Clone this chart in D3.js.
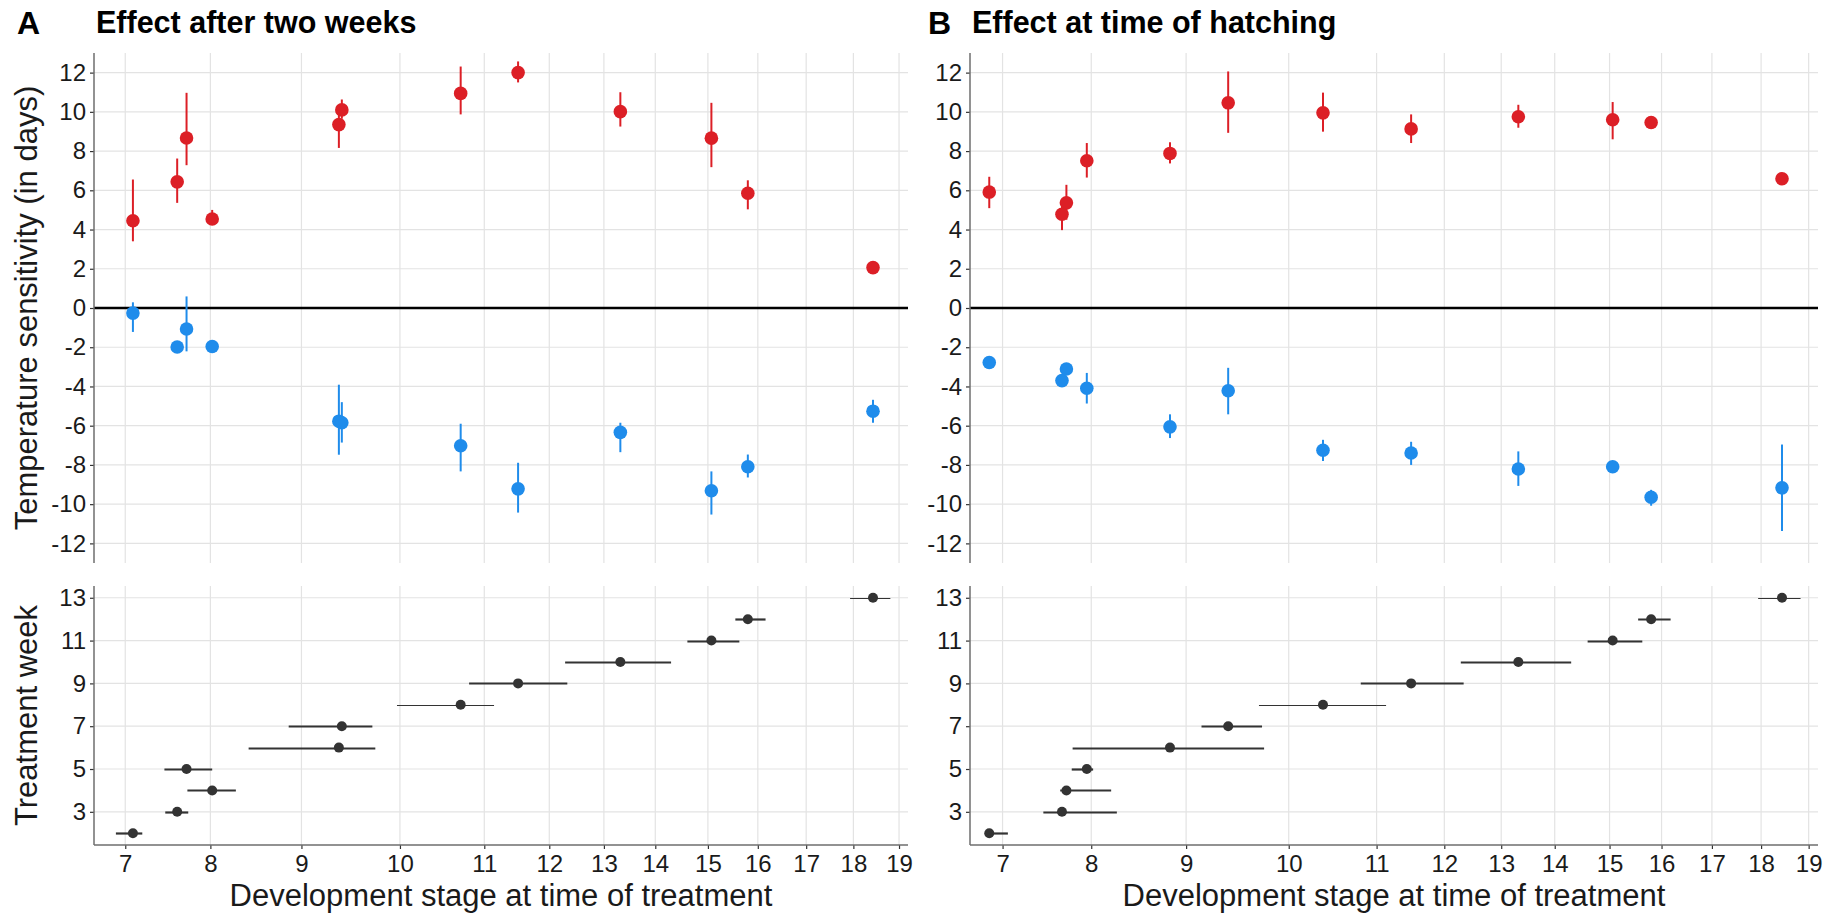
<!DOCTYPE html>
<html>
<head>
<meta charset="utf-8">
<script src="https://cdn.jsdelivr.net/npm/d3@7"></script>
<style>
  body { margin: 0; background: #fff; }
  svg { display: block; font-family: "Liberation Sans", Arial, sans-serif; }
</style>
</head>
<body>
<div id="chart"></div>
<script>
// treatment weeks (rows of the lower panels)
var weeks = [2, 3, 4, 5, 6, 7, 8, 9, 10, 11, 12, 13]
var thinWeeks = [8, 13]

// stage axis: ticks sit unevenly along the axis
var stageTicks = [7, 8, 9, 10, 11, 12, 13, 14, 15, 16, 17, 18, 19]
var stageTickFrac = [0, 0.110, 0.2277, 0.355, 0.464, 0.548, 0.6186, 0.685, 0.753, 0.8175, 0.880, 0.941, 1]
var sensTicks = [-12, -10, -8, -6, -4, -2, 0, 2, 4, 6, 8, 10, 12]
var weekTicks = [3, 5, 7, 9, 11, 13]

// A: effect after two weeks
var stageA   = [7.09, 7.61, 8.02, 7.72, 9.38, 9.41, 10.72, 11.52, 13.32, 15.07, 15.80, 18.43]
var stageALo = [6.89, 7.47, 7.73, 7.46, 8.42, 8.86, 9.97, 10.82, 12.29, 14.61, 15.55, 17.93]
var stageAHi = [7.20, 7.74, 8.28, 8.02, 9.75, 9.72, 11.15, 12.33, 14.30, 15.63, 16.16, 18.81]
var warmA    = [4.45, 6.43, 4.54, 8.67, 9.35, 10.10, 10.94, 12.00, 10.01, 8.66, 5.85, 2.06]
var warmALo  = [3.40, 5.36, 4.30, 7.28, 8.16, 9.65, 9.87, 11.50, 9.25, 7.18, 5.03, 1.90]
var warmAHi  = [6.55, 7.62, 5.00, 10.97, 9.90, 10.63, 12.31, 12.57, 11.00, 10.46, 6.51, 2.20]
var coldA    = [-0.26, -1.99, -1.96, -1.07, -5.77, -5.85, -7.02, -9.22, -6.34, -9.32, -8.09, -5.26]
var coldALo  = [-1.22, -2.25, -2.20, -2.21, -7.48, -6.86, -8.33, -10.43, -7.35, -10.53, -8.64, -5.85]
var coldAHi  = [0.29, -1.70, -1.65, 0.59, -3.91, -4.80, -5.90, -7.89, -5.85, -8.33, -7.47, -4.68]

// B: effect at time of hatching
var stageB   = [6.85, 7.67, 7.72, 7.95, 8.83, 9.41, 10.39, 11.51, 13.32, 15.06, 15.80, 18.44]
var stageBLo = [6.80, 7.46, 7.65, 7.78, 7.79, 9.15, 9.71, 10.82, 12.29, 14.60, 15.55, 17.94]
var stageBHi = [7.06, 8.27, 8.21, 8.02, 9.76, 9.74, 11.14, 12.34, 14.30, 15.63, 16.18, 18.83]
var warmB    = [5.91, 4.78, 5.36, 7.51, 7.88, 10.46, 9.95, 9.13, 9.75, 9.60, 9.46, 6.59]
var warmBLo  = [5.09, 3.97, 4.50, 6.65, 7.37, 8.93, 8.99, 8.41, 9.19, 8.60, 9.20, 6.45]
var warmBHi  = [6.69, 5.20, 6.28, 8.41, 8.45, 12.06, 10.98, 9.87, 10.36, 10.50, 9.70, 6.70]
var coldB    = [-2.78, -3.70, -3.11, -4.09, -6.06, -4.22, -7.25, -7.39, -8.21, -8.09, -9.65, -9.17]
var coldBLo  = [-2.90, -3.99, -3.30, -4.87, -6.63, -5.42, -7.80, -8.00, -9.07, -8.20, -10.08, -11.37]
var coldBHi  = [-2.65, -3.40, -2.95, -3.31, -5.42, -3.05, -6.72, -6.82, -7.31, -7.95, -9.27, -6.96]

var red = "#dc1f26", blue = "#1f8ceb", dark = "#333333"

var W = 1839, H = 916
var topY = [53, 563], botY = [586, 845]

var svg = d3.select("#chart").append("svg")
    .attr("width", W).attr("height", H)

var panels = [
  {tag: "A", title: "Effect after two weeks", left: 94, right: 908, showYTitle: true,
   stage: stageA, lo: stageALo, hi: stageAHi,
   warm: warmA, warmLo: warmALo, warmHi: warmAHi, cold: coldA, coldLo: coldALo, coldHi: coldAHi},
  {tag: "B", title: "Effect at time of hatching", left: 970, right: 1818, showYTitle: false,
   stage: stageB, lo: stageBLo, hi: stageBHi,
   warm: warmB, warmLo: warmBLo, warmHi: warmBHi, cold: coldB, coldLo: coldBLo, coldHi: coldBHi}
]

panels.forEach(function(p) {
  // span between tick 7 and tick 19, with some padding on both sides
  var span = (p.right - p.left) / 1.052
  var x7 = p.left + 0.0404 * span
  var x = d3.scaleLinear()
      .domain(stageTicks)
      .range(stageTickFrac.map(function(f) { return x7 + f * span }))
  var yTop = d3.scaleLinear().domain([-13, 13]).range([topY[1], topY[0]])
  var yBot = d3.scaleLinear().domain([1.45, 13.55]).range([botY[1], botY[0]])

  var g = svg.append("g")

  // tag + title
  g.append("text")
      .attr("x", p.left - (p.tag == "A" ? 77 : 42)).attr("y", 34)
      .style("font-size", "32px").style("font-weight", "bold")
      .text(p.tag)
  g.append("text")
      .attr("x", p.left + 2).attr("y", 33)
      .style("font-size", "30.5px").style("font-weight", "bold")
      .text(p.title)

  // grids
  ;[[yTop, topY, sensTicks], [yBot, botY, weekTicks]].forEach(function(s) {
    var y = s[0], yr = s[1]
    g.append("g").selectAll("line").data(stageTicks).enter().append("line")
        .attr("x1", function(d) { return x(d) }).attr("x2", function(d) { return x(d) })
        .attr("y1", yr[0]).attr("y2", yr[1])
        .attr("stroke", "#e3e3e3").attr("stroke-width", 1.2)
    g.append("g").selectAll("line").data(s[2]).enter().append("line")
        .attr("x1", p.left).attr("x2", p.right)
        .attr("y1", function(d) { return y(d) }).attr("y2", function(d) { return y(d) })
        .attr("stroke", "#e3e3e3").attr("stroke-width", 1.2)
  })

  // zero line
  g.append("line")
      .attr("x1", p.left).attr("x2", p.right)
      .attr("y1", yTop(0)).attr("y2", yTop(0))
      .attr("stroke", "#000").attr("stroke-width", 2.5)

  // axes
  var yAxisTop = g.append("g")
      .attr("transform", "translate(" + p.left + ",0)")
      .call(d3.axisLeft(yTop).tickValues(sensTicks).tickSize(4).tickPadding(4)
            .tickFormat(function(d) { return d < 0 ? "-" + Math.abs(d) : d }))
  var yAxisBot = g.append("g")
      .attr("transform", "translate(" + p.left + ",0)")
      .call(d3.axisLeft(yBot).tickValues(weekTicks).tickSize(4).tickPadding(4))
  var xAxis = g.append("g")
      .attr("transform", "translate(0," + botY[1] + ")")
      .call(d3.axisBottom(x).tickValues(stageTicks).tickSize(4).tickPadding(6))
  ;[yAxisTop, yAxisBot, xAxis].forEach(function(a) {
    a.select(".domain").remove()
    a.selectAll(".tick line").attr("stroke", dark).attr("stroke-width", 1.2)
    a.selectAll(".tick text").attr("fill", "#1a1a1a")
        .style("font-size", "24px").style("font-family", "Liberation Sans, Arial, sans-serif")
  })
  xAxis.selectAll(".tick text").attr("dy", "0.71em")
  g.append("line").attr("x1", p.left).attr("x2", p.left)
      .attr("y1", topY[0]).attr("y2", topY[1]).attr("stroke", "#6e6e6e").attr("stroke-width", 1.5)
  g.append("line").attr("x1", p.left).attr("x2", p.left)
      .attr("y1", botY[0]).attr("y2", botY[1]).attr("stroke", "#6e6e6e").attr("stroke-width", 1.5)
  g.append("line").attr("x1", p.left).attr("x2", p.right)
      .attr("y1", botY[1]).attr("y2", botY[1]).attr("stroke", "#6e6e6e").attr("stroke-width", 1.5)

  // axis titles
  var cx = (p.left + p.right) / 2
  g.append("text")
      .attr("x", cx).attr("y", 906)
      .attr("text-anchor", "middle")
      .style("font-size", "31px").attr("fill", "#1a1a1a")
      .text("Development stage at time of treatment")
  if (p.showYTitle) {
    g.append("text")
        .attr("transform", "translate(37," + (topY[0] + topY[1]) / 2 + ") rotate(-90)")
        .attr("text-anchor", "middle")
        .style("font-size", "31px").attr("fill", "#1a1a1a")
        .text("Temperature sensitivity (in days)")
    g.append("text")
        .attr("transform", "translate(37," + (botY[0] + botY[1]) / 2 + ") rotate(-90)")
        .attr("text-anchor", "middle")
        .style("font-size", "31px").attr("fill", "#1a1a1a")
        .text("Treatment week")
  }

  // effect points with error bars
  var series = [
    {v: p.warm, lo: p.warmLo, hi: p.warmHi, color: red},
    {v: p.cold, lo: p.coldLo, hi: p.coldHi, color: blue}
  ]
  series.forEach(function(s) {
    g.append("g").selectAll("line").data(weeks).enter().append("line")
        .attr("x1", function(d, i) { return x(p.stage[i]) })
        .attr("x2", function(d, i) { return x(p.stage[i]) })
        .attr("y1", function(d, i) { return yTop(s.lo[i]) })
        .attr("y2", function(d, i) { return yTop(s.hi[i]) })
        .attr("stroke", s.color).attr("stroke-width", 2)
    g.append("g").selectAll("circle").data(weeks).enter().append("circle")
        .attr("cx", function(d, i) { return x(p.stage[i]) })
        .attr("cy", function(d, i) { return yTop(s.v[i]) })
        .attr("r", 6.8)
        .attr("fill", s.color)
  })

  // stage ranges per treatment week
  g.append("g").selectAll("line").data(weeks).enter().append("line")
      .attr("x1", function(d, i) { return x(p.lo[i]) })
      .attr("x2", function(d, i) { return x(p.hi[i]) })
      .attr("y1", function(d) { return Math.round(yBot(d)) + 0.5 })
      .attr("y2", function(d) { return Math.round(yBot(d)) + 0.5 })
      .attr("stroke", dark)
      .attr("stroke-width", function(d) { return thinWeeks.indexOf(d) >= 0 ? 1.2 : 2.2 })
  g.append("g").selectAll("circle").data(weeks).enter().append("circle")
      .attr("cx", function(d, i) { return x(p.stage[i]) })
      .attr("cy", function(d) { return yBot(d) })
      .attr("r", 5)
      .attr("fill", dark)
})
</script>
</body>
</html>
